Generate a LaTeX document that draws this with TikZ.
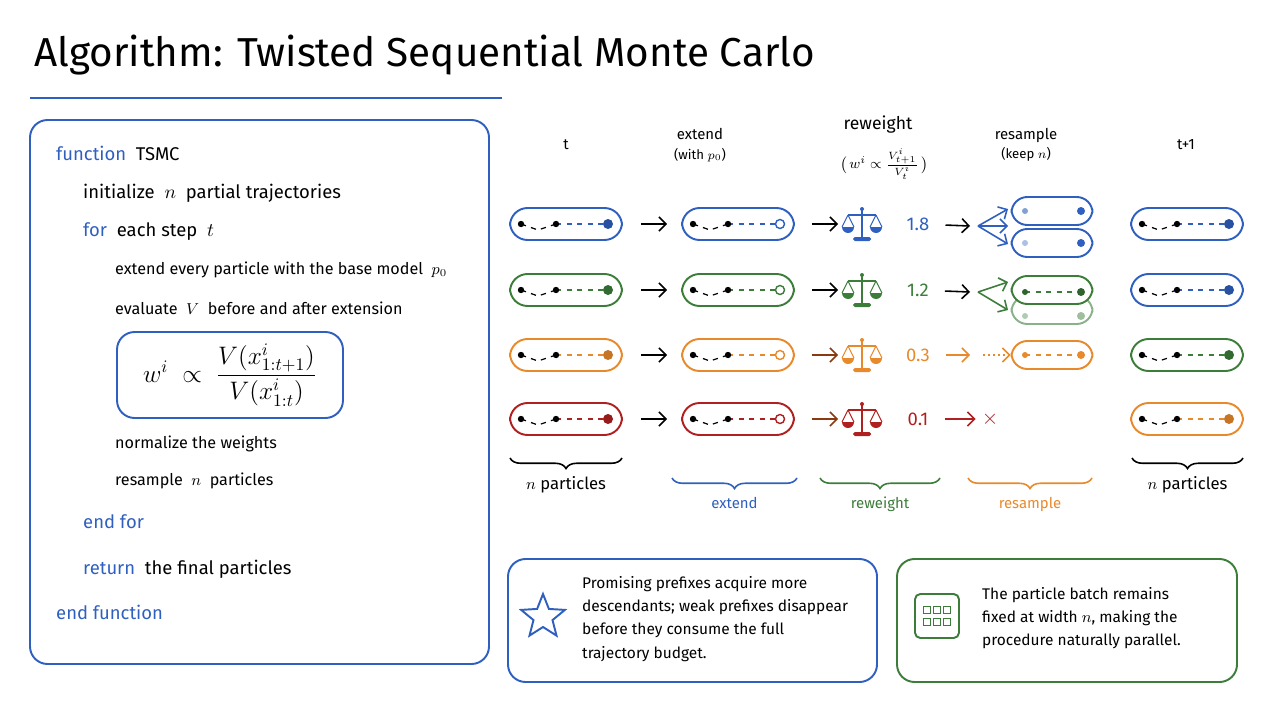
\documentclass[tikz,border=0pt]{standalone}
\usepackage{fontspec}
\usepackage{amsmath}
\setmainfont{Fira Sans}
\usetikzlibrary{shapes.geometric, arrows.meta, positioning, calc, decorations.pathreplacing}
\definecolor{algblue}{HTML}{2F5FBF}
\definecolor{alggreen}{HTML}{3C7D3A}
\definecolor{algorange}{HTML}{E8892B}
\definecolor{algred}{HTML}{B02020}
\definecolor{arrbrown}{HTML}{8A3A10}

\tikzset{
  pbox/.style={draw=#1, line width=1.1pt, rounded corners=10pt, minimum width=2.24cm, minimum height=0.64cm},
  rbox/.style={draw=#1, line width=1.1pt, rounded corners=9pt, minimum width=1.62cm, minimum height=0.56cm, fill=white},
  panel/.style={draw=#1, line width=1.1pt, rounded corners=10pt},
  flow/.style={-{Straight Barb[length=4pt]}, line width=0.9pt},
  code/.style={anchor=west, font=\fontsize{10.5}{12}\selectfont},
  subcode/.style={anchor=west, font=\fontsize{9.2}{11}\selectfont},
  head/.style={font=\fontsize{8.5}{10}\selectfont},
  wt/.style={font=\fontsize{10.5}{12}\selectfont},
  brc/.style={decorate, decoration={brace, mirror, amplitude=6pt}, line width=0.9pt},
  balance/.pic={
    \draw[line width=1.3pt] (0,-15) -- (0,14);
    \draw[line width=1.3pt] (-14,-9) -- (14,-9);
    \fill (0,-15) circle (2);
    \draw[line width=0.6pt] (-14,-9) -- (-20,3) (-14,-9) -- (-8,3) (14,-9) -- (8,3) (14,-9) -- (20,3);
    \fill (-20,3) arc (180:0:6) -- cycle;
    \fill (8,3) arc (180:0:6) -- cycle;
    \fill[rounded corners=1pt] (-9,13) rectangle (9,17);
  }
}
% dashed trajectory inside a particle box
\newcommand{\trajline}[4]{%
  \draw[dashed, line width=0.7pt] (#1-45,#2) -- (#1-28,#2+6) -- (#1-10,#2);
  \draw[dashed, line width=0.7pt, #3] (#1-10,#2) -- (#1+40,#2);
  \fill (#1-45,#2) circle (3.2); \fill (#1-10,#2) circle (3.2);
  \ifx#4o\draw[#3, line width=0.8pt, fill=white] (#1+42,#2) circle (4.5);
  \else\fill[#3!85!black] (#1+42,#2) circle (5);\fi}

\begin{document}
\begin{tikzpicture}[x=0.02cm, y=-0.02cm]
  \useasboundingbox (0,0) rectangle (1280,720);

  % title
  \node[anchor=west, font=\fontsize{23}{26}\selectfont] (title) at (28,55) {Algorithm: Twisted Sequential Monte Carlo};
  \draw[algblue, line width=1.3pt] (30,98) -- (502,98);

  % pseudo code panel
  \draw[panel=algblue] (30,120) rectangle (489,664);
  \node[code] (l1) at (50,153) {\textcolor{algblue}{function}\ \ TSMC};
  \node[code] (l2) at (77,193) {initialize\ \ $n$\ \ partial trajectories};
  \node[code] (l3) at (77,232) {\textcolor{algblue}{for}\ \ each step\ \ $t$};
  \node[subcode] (l4) at (109,270) {extend every particle with the base model\ \ $p_0$};
  \node[subcode] (l5) at (109,308) {evaluate\ \ $V$\ \ before and after extension};
  \node[panel=algblue, minimum width=4.52cm, minimum height=1.72cm, font=\fontsize{14}{16}\selectfont] (frm) at (230,375)
    {$w^i\;\propto\;\dfrac{V(x^i_{1:t+1})}{V(x^i_{1:t})}$};
  \node[subcode] (l6) at (109,444) {normalize the weights};
  \node[subcode] (l7) at (109,481) {resample\ \ $n$\ \ particles};
  \node[code] (l8) at (77,522) {\textcolor{algblue}{end for}};
  \node[code] (l9) at (77,569) {\textcolor{algblue}{return}\ \ the final particles};
  \node[code] (l10) at (50,612) {\textcolor{algblue}{end function}};

  % column headers
  \node[head] (ht) at (566,145) {t};
  \node[head, align=center] (hext) at (700,145) {extend\\[1pt]{\fontsize{7.5}{9}\selectfont(with $p_0$)}};
  \node[head] (hrw) at (878,125) {\fontsize{10}{12}\selectfont reweight};
  \node[head] (hrwf) at (884,164) {$\bigl(\,w^i\propto\tfrac{V^i_{t+1}}{V^i_t}\,\bigr)$};
  \node[head, align=center] (hres) at (1026,145) {resample\\[1pt]{\fontsize{7.5}{9}\selectfont(keep $n$)}};
  \node[head] (hnext) at (1186,145) {t+1};

  % particle rows
  \foreach \r/\y/\c/\w/\ac/\nc in {1/224/algblue/1.8/black/algblue, 2/290/alggreen/1.2/black/algblue,
      3/355/algorange/0.3/arrbrown/alggreen, 4/419/algred/0.1/arrbrown/algorange} {
    \node[pbox=\c] (a\r) at (566,\y) {};
    \trajline{566}{\y}{\c}{f}
    \node[pbox=\c] (b\r) at (738,\y) {};
    \trajline{738}{\y}{\c}{o}
    \pic[\c] at (862,\y) {balance};
    \coordinate (s\r) at (838,\y);
    \node[wt, text=\c] (w\r) at (918,\y) {\w};
    \node[pbox=\nc] (n\r) at (1187,\y) {};
    \trajline{1187}{\y}{\nc}{f}
    \draw[flow, shorten <=0.36cm, shorten >=0.28cm] (a\r) -- (b\r);
    \draw[flow, \ac, shorten <=0.34cm] (b\r) -- (s\r);
  }

  % resample column
  \node[rbox=algblue] (r1b) at (1052,243) {};
  \node[rbox=algblue] (r1a) at (1052,211) {};
  \fill[algblue!60] (1025,211) circle (3); \fill[algblue] (1081,211) circle (4);
  \fill[algblue!40] (1025,243) circle (3); \fill[algblue] (1081,243) circle (4);
  \coordinate (f1) at (970,226);
  \draw[flow, shorten <=0.2cm] (w1) -- (f1);
  \draw[flow, algblue] (978,226) -- (1008,209);
  \draw[flow, algblue] (978,226) -- (1008,226);
  \draw[flow, algblue] (978,226) -- (1008,244);

  \node[rbox=alggreen!60] (r2b) at (1052,310) {};
  \node[rbox=alggreen] (r2a) at (1052,290) {};
  \fill[alggreen!40] (1025,316) circle (3); \fill[alggreen!50] (1081,316) circle (4);
  \draw[dashed, alggreen, line width=0.7pt] (1025,292) -- (1081,292);
  \fill[alggreen!80!black] (1025,292) circle (3); \fill[alggreen!80!black] (1081,292) circle (4);
  \coordinate (f2) at (970,292);
  \draw[flow, shorten <=0.2cm] (w2) -- (f2);
  \draw[flow, alggreen] (978,292) -- (1008,282);
  \draw[flow, alggreen] (978,292) -- (1008,310);

  \node[rbox=algorange] (r3) at (1052,355) {};
  \draw[dashed, algorange, line width=0.7pt] (1025,355) -- (1081,355);
  \fill[algorange] (1025,355) circle (3); \fill[algorange] (1081,355) circle (4);
  \coordinate (f3) at (970,355);
  \draw[flow, algorange, shorten <=0.2cm] (w3) -- (f3);
  \draw[flow, algorange, dotted] (983,355) -- (r3);

  \node[text=algred, font=\fontsize{12}{14}\selectfont] (x4) at (990,419) {$\times$};
  \draw[flow, algred, shorten <=0.2cm] (w4) -- (x4);

  % braces
  \draw[brc] (510,458) -- node[below=7pt, font=\fontsize{9.5}{11}\selectfont] (bl1) {$n$ particles} (622,458);
  \draw[brc, algblue] (672,478) -- node[below=7pt, head, text=algblue] (bl2) {extend} (797,478);
  \draw[brc, alggreen] (820,478) -- node[below=7pt, head, text=alggreen] (bl3) {reweight} (940,478);
  \draw[brc, algorange] (968,478) -- node[below=7pt, head, text=algorange] (bl4) {resample} (1092,478);
  \draw[brc] (1132,458) -- node[below=7pt, font=\fontsize{9.5}{11}\selectfont] (bl5) {$n$ particles} (1243,458);

  % notes
  \draw[panel=algblue] (508,559) rectangle (877,682);
  \node[star, star points=5, star point ratio=2.3, draw=algblue, line width=1.1pt, minimum size=0.92cm] (star) at (543,617) {};
  \node[anchor=west, align=left, font=\fontsize{8.8}{13.2}\selectfont] (note1) at (576,619)
    {Promising prefixes acquire more\\descendants; weak prefixes disappear\\before they consume the full\\trajectory budget.};
  \draw[panel=alggreen] (897,559) rectangle (1237,682);
  \node[draw=alggreen, line width=1.1pt, rounded corners=3pt, minimum size=0.88cm] (grid) at (937,616) {};
  \foreach \gx in {-10,0,10} \foreach \gy in {-6,6}
    \draw[alggreen, line width=0.7pt] (937+\gx-3.5,616+\gy-3.5) rectangle (937+\gx+3.5,616+\gy+3.5);
  \node[anchor=west, align=left, font=\fontsize{8.8}{13.2}\selectfont] (note2) at (976,618)
    {The particle batch remains\\fixed at width $n$, making the\\procedure naturally parallel.};
\end{tikzpicture}
\end{document}
